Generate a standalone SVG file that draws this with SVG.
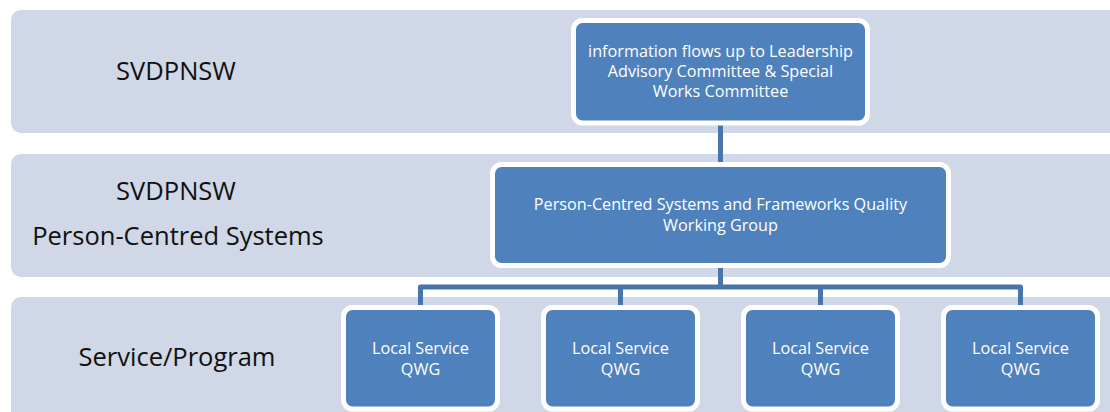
<svg xmlns="http://www.w3.org/2000/svg" width="1110" height="412" viewBox="0 0 1110 412">
  <style>
    .band { fill: #d0d7e6; }
    .box { fill: #4f81bd; stroke: #ffffff; stroke-width: 5; }
    .wire { fill: none; stroke: #4a75aa; stroke-width: 5; stroke-linejoin: round; }
    .lbl { font-family: "Open Sans", "Liberation Sans", sans-serif; font-size: 25.5px; fill: #111111; text-anchor: middle; }
    .txt { font-family: "Open Sans", "Liberation Sans", sans-serif; font-size: 16.2px; fill: #ffffff; text-anchor: middle; }
  </style>

  <!-- tier bands -->
  <g id="bands">
    <rect class="band" x="11" y="10" width="1120" height="123" rx="10"/>
    <rect class="band" x="11" y="154" width="1120" height="123" rx="10"/>
    <rect class="band" x="11" y="297" width="1120" height="130" rx="10"/>
    <text class="lbl" x="176" y="80">SVDPNSW</text>
    <text class="lbl" x="176" y="200">SVDPNSW</text>
    <text class="lbl" x="178" y="245">Person-Centred Systems</text>
    <text class="lbl" x="177" y="366">Service/Program</text>
  </g>

  <!-- connectors -->
  <g id="connectors">
    <line class="wire" x1="720.5" y1="124" x2="720.5" y2="165"/>
    <line class="wire" x1="720.5" y1="267" x2="720.5" y2="287"/>
    <path class="wire" d="M420.5,306 V287 H1020.5 V306"/>
    <line class="wire" x1="620.5" y1="287" x2="620.5" y2="306"/>
    <line class="wire" x1="820.5" y1="287" x2="820.5" y2="306"/>
  </g>

  <g id="leadership">
    <rect class="box" x="573.5" y="20.5" width="294" height="102.5" rx="9"/>
    <text class="txt" x="720.5" y="56.5">information flows up to Leadership</text>
    <text class="txt" x="720.5" y="76.5">Advisory Committee &amp; Special</text>
    <text class="txt" x="720.5" y="97">Works Committee</text>
  </g>

  <g id="pcs-qwg">
    <rect class="box" x="492.5" y="164.5" width="456" height="101" rx="9"/>
    <text class="txt" x="720.5" y="210">Person-Centred Systems and Frameworks Quality</text>
    <text class="txt" x="720.5" y="230.5">Working Group</text>
  </g>

  <g id="local-1">
    <rect class="box" x="343.5" y="307.5" width="154" height="101.5" rx="9"/>
    <text class="txt" x="420.5" y="354">Local Service</text>
    <text class="txt" x="420.5" y="375">QWG</text>
  </g>
  <g id="local-2">
    <rect class="box" x="543.5" y="307.5" width="154" height="101.5" rx="9"/>
    <text class="txt" x="620.5" y="354">Local Service</text>
    <text class="txt" x="620.5" y="375">QWG</text>
  </g>
  <g id="local-3">
    <rect class="box" x="743.5" y="307.5" width="154" height="101.5" rx="9"/>
    <text class="txt" x="820.5" y="354">Local Service</text>
    <text class="txt" x="820.5" y="375">QWG</text>
  </g>
  <g id="local-4">
    <rect class="box" x="943.5" y="307.5" width="154" height="101.5" rx="9"/>
    <text class="txt" x="1020.5" y="354">Local Service</text>
    <text class="txt" x="1020.5" y="375">QWG</text>
  </g>
</svg>
